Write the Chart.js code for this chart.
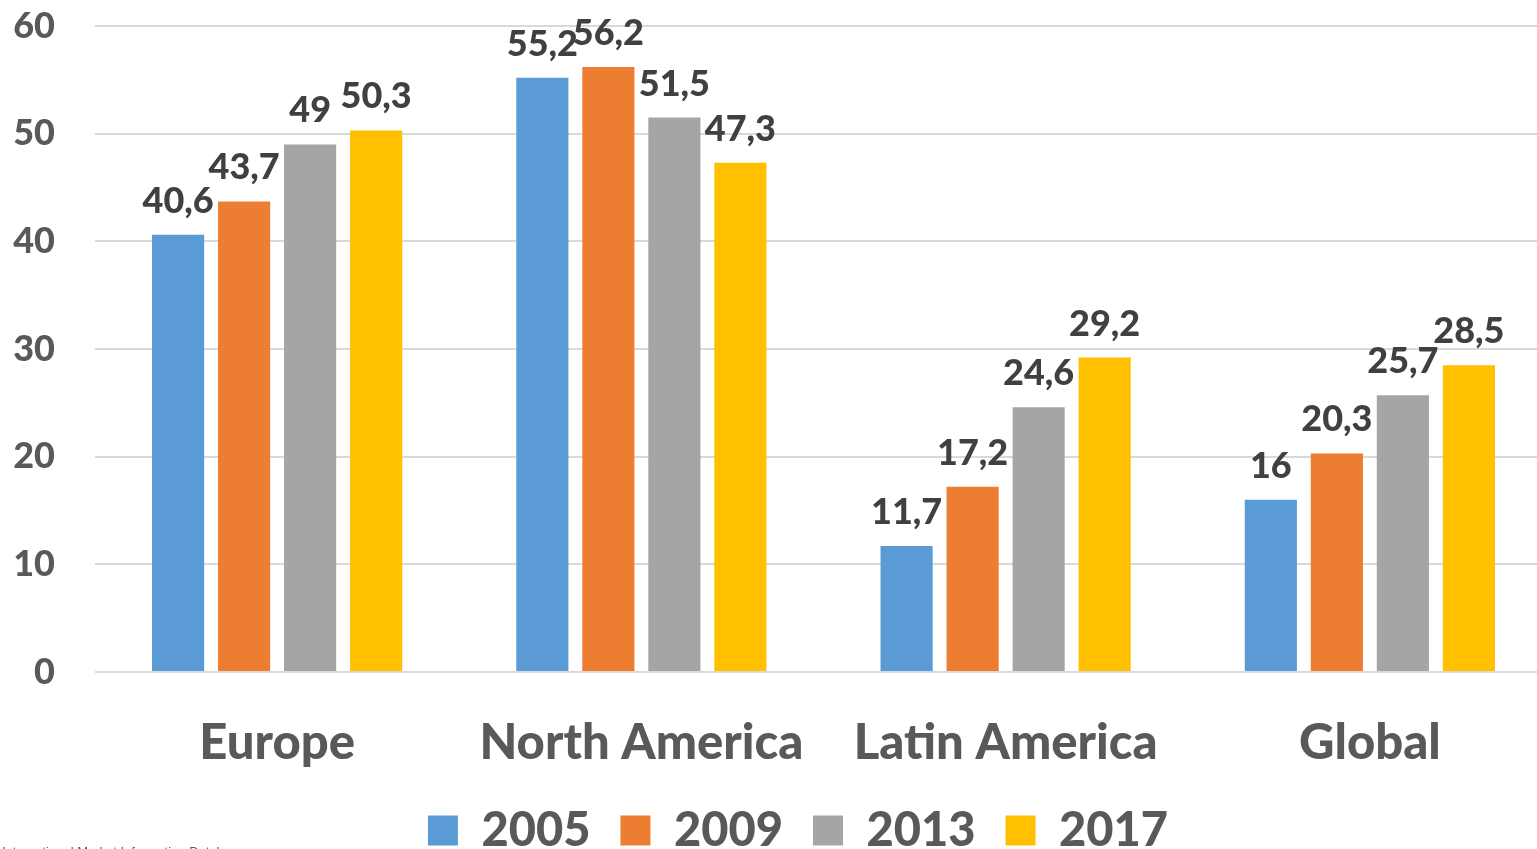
<!DOCTYPE html>
<html>
<head>
<meta charset="utf-8">
<script src="https://cdn.jsdelivr.net/npm/chart.js@4"></script>
<style>
  html, body { margin: 0; padding: 0; background: #fff; overflow: hidden; }
  #wrap { width: 1552px; height: 864px; position: relative; }
</style>
</head>
<body>
<div id="wrap"><canvas id="chart"></canvas></div>
<script>
  const regions = ["Europe", "North America", "Latin America", "Global"];
  const years = ["2005", "2009", "2013", "2017"];
  const v2005 = [40.6, 55.2, 11.7, 16];
  const v2009 = [43.7, 56.2, 17.2, 20.3];
  const v2013 = [49, 51.5, 24.6, 25.7];
  const v2017 = [50.3, 47.3, 29.2, 28.5];
  const yMin = 0, yMax = 60, yStep = 10;
  const colors = ["#5B9BD5", "#ED7D31", "#A5A5A5", "#FFC000"];
  const sourceNote = "International Market Information Database";

  const FONT = "Lato";
  const WEIGHT = 900;
  const seriesValues = [v2005, v2009, v2013, v2017];

  // value labels on top of the bars, comma as decimal sign
  const valueLabels = {
    id: "valueLabels",
    afterDatasetsDraw(chart) {
      const ctx = chart.ctx;
      ctx.save();
      ctx.font = `${WEIGHT} 36px ${FONT}`;
      ctx.fillStyle = "#404040";
      ctx.textAlign = "center";
      ctx.textBaseline = "alphabetic";
      chart.data.datasets.forEach((ds, i) => {
        chart.getDatasetMeta(i).data.forEach((bar, j) => {
          const txt = String(ds.data[j]).replace(".", ",");
          ctx.fillText(txt, bar.x, bar.y - 22);
        });
      });
      ctx.restore();
    },
  };

  // legend in the original sits a bit right of the canvas centre
  const legendNudge = {
    id: "legendNudge",
    afterLayout(chart) {
      if (!chart.legend) return;
      chart.legend.left += 22;
      chart.legend.right += 22;
    },
  };

  // source line, mostly cut off by the bottom of the window
  const sourceLine = {
    id: "sourceLine",
    afterDraw(chart) {
      const ctx = chart.ctx;
      ctx.save();
      ctx.font = `13px "Liberation Sans"`;
      ctx.fillStyle = "#595959";
      ctx.textAlign = "left";
      ctx.textBaseline = "alphabetic";
      ctx.fillText(sourceNote, 2, 856);
      ctx.restore();
    },
  };

  const data = {
    labels: regions,
    datasets: years.map((y, i) => ({
      label: y,
      data: seriesValues[i],
      backgroundColor: colors[i],
      categoryPercentage: 0.725,
      barPercentage: 0.79,
    })),
  };

  new Chart(document.getElementById("chart"), {
    type: "bar",
    data: data,
    plugins: [valueLabels, legendNudge, sourceLine],
    options: {
      responsive: true,
      maintainAspectRatio: false,
      animation: false,
      devicePixelRatio: 1,
      layout: { padding: { top: 26, right: 0, bottom: 0, left: 0 } },
      plugins: {
        legend: {
          position: "bottom",
          labels: {
            boxWidth: 30,
            boxHeight: 30,
            padding: 30,
            color: "#595959",
            font: { family: FONT, size: 47, weight: WEIGHT },
          },
        },
        tooltip: { enabled: false },
      },
      scales: {
        y: {
          min: yMin,
          max: yMax,
          afterFit(scale) { scale.width = 95; },
          ticks: {
            stepSize: yStep,
            padding: 0,
            color: "#595959",
            font: { family: FONT, size: 36, weight: WEIGHT },
          },
          grid: {
            color: "#D9D9D9",
            lineWidth: 2,
            drawTicks: true,
            tickLength: 40,
            tickColor: "rgba(0,0,0,0)",
          },
          border: { display: false },
        },
        x: {
          afterFit(scale) { scale.height = 105; },
          ticks: {
            padding: 34,
            color: "#595959",
            font: { family: FONT, size: 49, weight: WEIGHT },
          },
          grid: { display: false },
          border: { display: false },
        },
      },
    },
  });
</script>
</body>
</html>
